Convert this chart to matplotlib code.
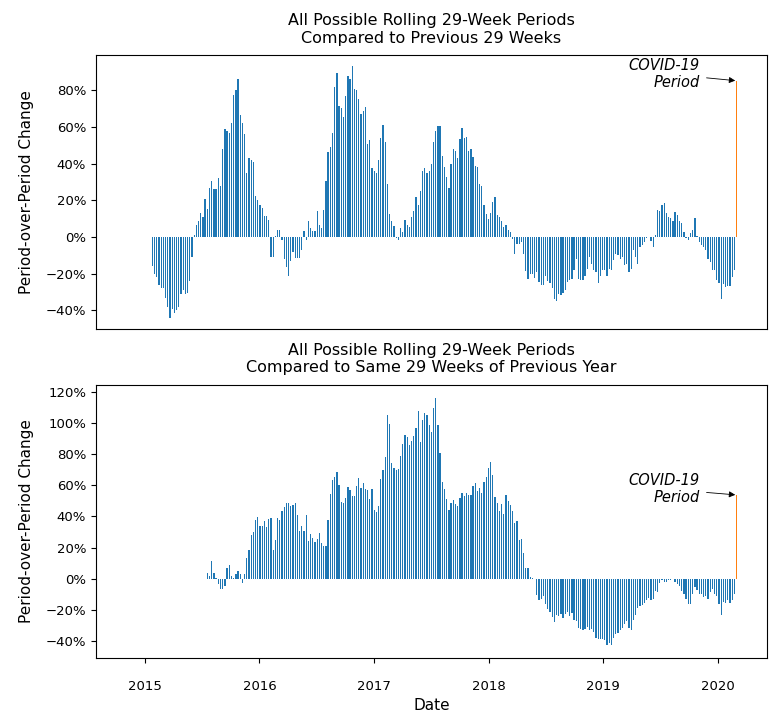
import pandas as pd
import matplotlib
matplotlib.use("Agg")
import matplotlib.pyplot as plt
import matplotlib.dates as mdates
from matplotlib.ticker import PercentFormatter

# ------------------------------------------------------------
# Data (weekly, oldest first, in %)
# ------------------------------------------------------------

# rolling 29-week period vs the previous 29 weeks
prev_change = [
    -16, -20, -22, -26, -28, -28, -33, -38, -44, -39, -41.5, -40, -38, -31, -29, -31, -30.5, -24, -11,
    1.0,
    6.6, 8.5, 13, 10.7, 21, 15.4, 26.8, 30.5, 26, 26.3, 32, 28, 48, 59, 57.7, 56.8, 62.3, 77.4, 80.5, 86,
    66.7, 62.3, 56.3, 34.7, 43, 42, 41, 22.6, 20.4, 17.6,
    15.8, 11.6, 11.6, 9.4, -10.8, -10.8, 0.3, 3.7, 3.7, -1.7, -12, -16.4, -21, -13, -8.3, -11.2, -11.2,
    -11.2, -6.8, 3.3, -1.7, 8.5, 4.8, 3.3, 3.3, 14, 6.6, 4.8, 15, 30.5, 46.5, 49, 57, 81.8, 89.7, 71.5,
    70.4, 65.4, 77, 88, 86, 93.6, 80.7, 80, 75.5, 67.3, 69, 71, 51, 53, 37.7,
    36, 35, 42, 54, 61, 52, 29, 12.5, 8.5, 6.3, -0.5, -1.7, 4.8, 2.6, 9.2, 6.6, 5.5, 11.2, 14, 21.9,
    17.6, 25.4, 36, 37.9, 35, 36, 40, 51.8, 57.7, 60.5, 60.8, 44.5, 38.2, 33, 27, 40, 48.3, 46.9, 43.2,
    53.5, 59.6, 53.9, 54.4, 46.7, 48, 43.8, 39, 38.2, 28.7, 27.6,
    17.3, 12.7, 10, 13.2, 19, 22, 11.8, 11, 8.6, 5.7, 6.6, 3.9, 2.9, -0.9, -9, -4, -4, -2.6, -9, -18.8,
    -22.8, -20, -20, -22.2, -19, -24.3, -26, -26, -21, -24, -25, -28, -33.8, -35, -31, -31.6, -30.5,
    -28.9, -24.3, -23.7, -22.8, -17.8, -12, -22.8, -23.7, -23.7, -21.5,
    -17.3, -10.8, -14.5, -18.2, -19, -25, -21.5, -18.2, -17.8, -21, -17.3, -18.2, -12.7, -9, -10, -11.8,
    -10.8, -15, -14.5, -19, -17.3, -7.2, -10.8, -14.5, -5.3, -4.4, -2.6, -0.7, 0.2, -2, -5.3, 1.1, 14.9,
    14.3, 17.6, 18.6, 13, 11.2, 10.3, 8.5, 13.4, 12.1, 8.5, 7.5, 2.9, -0.7, -1.7, 2, 3.9, 10.3, 0.3,
    -2.6, -4.4, -5.3, -6.8, -11.8, -13.6, -18.2, -18.2, -23.7, -25, -33.8, -25.5, -27, -26.5, -26.5,
    -21.9, -18.2,
]

# rolling 29-week period vs the same 29 weeks of the previous year
yoy_change = [
    3.8, 2.1, 11.7, 3.6, 0.3, -3.2, -6.8, -6.8, -4.3, 7, 8.9, 1.5, 0.3, 3.2, 4.9, 3.2, -2.8, 3.2, 13.2,
    18.5, 28, 30.2, 37.7, 39.8, 33.6, 33.6, 37.2, 33, 38.3, 39, 18.7, 25, 38.7, 37.7, 43.6, 46.2, 48.7,
    48.7, 46.8, 47.4, 48.7, 41, 30.4, 33.6, 30.4, 41, 24, 28.7, 26.2, 23.8, 25.5, 29.4, 23, 21.3, 21.3,
    37.7, 54.7, 63.2, 65.5, 68.5, 60.2, 49, 48.5, 51.7, 59,
    57.2, 53.4, 53.4, 59.4, 64.5, 58.5, 61.5, 57.7, 56.8, 50.9, 57.7, 44, 43, 46.8, 64, 70, 78, 105,
    99.4, 74, 70.9, 69.6, 70.2, 79, 86.6, 92, 90.9, 85.7, 88.7, 91.5, 96.8, 107.4, 87.7, 101.7, 106.4,
    104.9, 98.5, 94.3, 109.6, 116, 98.9, 80.6, 61.9, 57.4, 50.9, 44, 48.7, 50.4, 47.9, 46.8, 52, 54.9,
    53.2, 54.9, 53.6, 53.6, 59.4, 61.3, 56.4, 58.5, 55, 61.9, 65, 70.9, 74.7, 66.6,
    52.5, 48.7, 43.6, 47.9, 41.5, 53.6, 50, 47.4, 43.6, 35.5, 37.2, 24.9, 25.3, 16.4, 7, 7, 1, 0.2,
    -0.4, -10.6, -13.8, -12.8, -11.3, -16.4, -19.1, -21.3, -24.5, -27.7, -23.4, -23.8, -22.3, -24.9,
    -22.3, -21.3, -24, -21.9, -26.6, -27, -31.3, -31.9, -32.6, -32.2, -30.9, -32.6, -31.9, -34, -37.7,
    -38.3, -38.3, -38.9, -39.4, -42.6, -41.5, -42.6,
    -38, -35.5, -35, -33, -31.5, -28.7, -27, -31.5, -32.6, -26.6, -23.4, -18.5, -17.7, -17, -15.5,
    -13.8, -12.1, -13.4, -13, -7.9, -8.3, -2.8, -1, -2.1, -2.1, -1, -1, -0.4, -2.1, -3.2, -4.3, -7.9,
    -9.6, -12.8, -16.4, -16.4, -9.6, -5.3, -7.4, -9.6, -9.6, -11.7, -11.3, -13.2, -8.3, -6.4, -9.6,
    -11.3, -16.4, -23.4, -14.9, -15.5, -13.8, -15.5, -13.8, -9.6,
]

# the last (COVID-19) period
covid_date = pd.Timestamp("2020-03-01")
covid_prev = 85.3
covid_yoy = 53.8

# x range shown on the shared date axis
x_start = pd.Timestamp("2014-07-29")
x_end = pd.Timestamp("2020-06-05")


def weekly_dates(n):
    """n weekly dates ending one week before the COVID period."""
    return pd.date_range(end=covid_date - pd.Timedelta(days=7), periods=n, freq="7D")


def draw_panel(ax, values, covid_val, title, text_dy):
    dates = weekly_dates(len(values))
    ax.bar(dates, values, width=4, color="tab:blue", linewidth=0)
    ax.bar([covid_date], [covid_val], width=4, color="tab:orange", linewidth=0)
    ax.set_title(title, fontsize=11.5, pad=9)
    ax.set_ylabel("Period-over-Period Change", fontsize=11, labelpad=8)
    ax.yaxis.set_major_formatter(PercentFormatter(100, decimals=0))
    ax.tick_params(labelsize=9.5)
    ax.annotate("COVID-19\nPeriod", xy=(covid_date, covid_val),
                xytext=(-37, text_dy), textcoords="offset pixels",
                ha="right", va="center", fontstyle="italic", fontsize=10.5,
                arrowprops=dict(arrowstyle="-|>", color="black", lw=0.6,
                                shrinkA=3, shrinkB=1, mutation_scale=9))


fig, (ax1, ax2) = plt.subplots(2, 1, figsize=(7.8, 7.25), dpi=100, sharex=True)
fig.subplots_adjust(left=0.123, right=0.983, top=0.924, bottom=0.092, hspace=0.205)

draw_panel(ax1, prev_change, covid_prev,
           "All Possible Rolling 29-Week Periods\nCompared to Previous 29 Weeks", 7)
draw_panel(ax2, yoy_change, covid_yoy,
           "All Possible Rolling 29-Week Periods\nCompared to Same 29 Weeks of Previous Year", 6)

ax1.set_ylim(-50, 99.3)
ax1.tick_params(axis="x", bottom=False)
ax2.set_ylim(-51, 124.5)
ax2.set_xlim(x_start, x_end)
ax2.xaxis.set_major_locator(mdates.YearLocator())
ax2.xaxis.set_major_formatter(mdates.DateFormatter("%Y"))
ax2.tick_params(axis="x", pad=12)
ax2.set_xlabel("Date", fontsize=11)

fig.savefig("out.png", dpi=100)
